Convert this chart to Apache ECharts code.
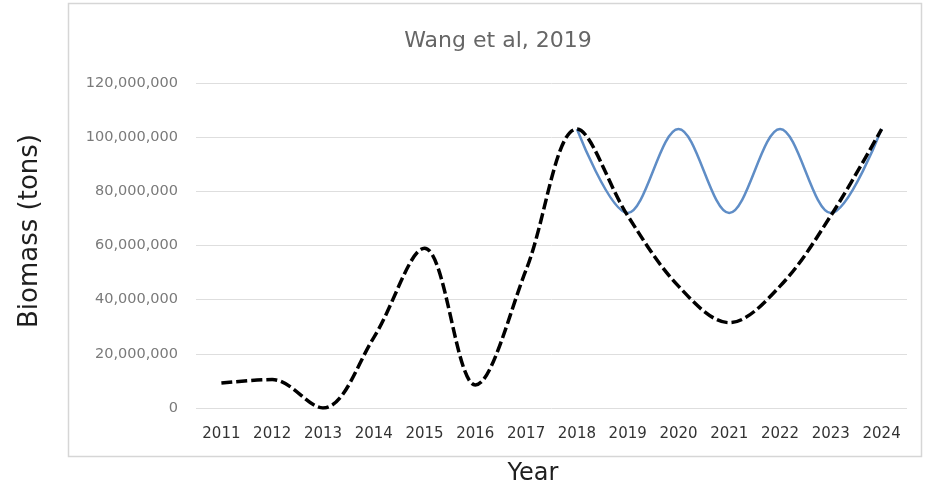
<!DOCTYPE html>
<html>
<head>
<meta charset="utf-8">
<script src="https://cdn.jsdelivr.net/npm/echarts@6/dist/echarts.min.js"></script>
<style>
  html, body { margin: 0; padding: 0; background: #ffffff; }
  #chart { width: 928px; height: 491px; }
</style>
</head>
<body>
<div id="chart"></div>
<script>
// Years on the category axis
const years = ['2011', '2012', '2013', '2014', '2015', '2016', '2017',
               '2018', '2019', '2020', '2021', '2022', '2023', '2024'];

// Biomass trajectory (tons), dashed black curve
const baselineBiomass = [9.2e6, 10.5e6, 0, 26e6, 59e6, 8.5e6, 51e6,
                         103e6, 71e6, 45e6, 31.5e6, 45e6, 71e6, 103e6];

// Oscillating scenario from 2018 onward (tons), solid blue curve
const cyclingBiomass = [null, null, null, null, null, null, null,
                        103e6, 72e6, 103e6, 72e6, 103e6, 72e6, 103e6];

// Value axis ticks
const yMin = 0;
const yMax = 120e6;
const yStep = 20e6;

const titleText = 'Wang et al, 2019';
const yName = 'Biomass (tons)';
const xName = 'Year';

const FONT = 'DejaVu Sans';

const chart = echarts.init(document.getElementById('chart'), null, { renderer: 'canvas' });

chart.setOption({
  animation: false,
  backgroundColor: '#ffffff',
  grid: { left: 196, right: 21, top: 83, bottom: 83, containLabel: false },
  xAxis: {
    type: 'category',
    data: years,
    boundaryGap: true,
    axisLine: { show: false },
    axisTick: { show: false },
    axisLabel: {
      color: '#333333',
      fontFamily: FONT,
      fontSize: 15,
      margin: 19
    },
    splitLine: { show: false }
  },
  yAxis: {
    type: 'value',
    min: yMin,
    max: yMax,
    interval: yStep,
    axisLine: { show: false },
    axisTick: { show: false },
    axisLabel: {
      color: '#7a7a7a',
      fontFamily: FONT,
      fontSize: 14.5,
      margin: 18,
      formatter: v => v.toLocaleString('en-US')
    },
    splitLine: { lineStyle: { color: '#dedede', width: 1 } }
  },
  series: [
    {
      name: 'Cycling',
      type: 'line',
      data: cyclingBiomass,
      smooth: 0.35,
      showSymbol: false,
      z: 2,
      lineStyle: { color: '#5f8dc6', width: 2.5 }
    },
    {
      name: 'Baseline',
      type: 'line',
      data: baselineBiomass,
      smooth: 0.35,
      showSymbol: false,
      z: 3,
      lineStyle: { color: '#000000', width: 3.5, type: [11, 4] }
    }
  ],
  graphic: [
    {
      type: 'rect',
      silent: true,
      shape: { x: 68.5, y: 3.5, width: 853, height: 453 },
      style: { fill: 'none', stroke: '#d6d6d6', lineWidth: 1.5 }
    },
    {
      type: 'text',
      silent: true,
      x: 498, y: 41,
      style: {
        text: titleText, fontFamily: FONT, fontSize: 22,
        fill: '#666666', align: 'center', verticalAlign: 'middle'
      }
    },
    {
      type: 'text',
      silent: true,
      x: 30, y: 231,
      rotation: Math.PI / 2,
      style: {
        text: yName, fontFamily: FONT, fontSize: 26,
        fill: '#1f1f1f', align: 'center', verticalAlign: 'middle'
      }
    },
    {
      type: 'text',
      silent: true,
      x: 533, y: 474,
      style: {
        text: xName, fontFamily: FONT, fontSize: 24,
        fill: '#1f1f1f', align: 'center', verticalAlign: 'middle'
      }
    }
  ]
});
</script>
</body>
</html>
